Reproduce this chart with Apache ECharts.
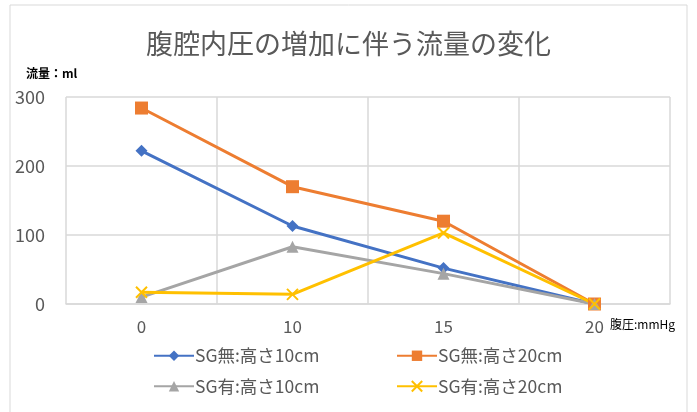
<!DOCTYPE html>
<html>
<head>
<meta charset="utf-8">
<script src="https://cdn.jsdelivr.net/npm/echarts@6/dist/echarts.min.js"></script>
<style>
body{margin:0;background:#fff;}
#chart{width:697px;height:412px;}
</style>
</head>
<body>
<div id="chart"></div>
<script>
// 腹圧 (mmHg)
var categories = ['0', '10', '15', '20'];
// 流量 (ml)
var sgNone10 = [222, 113, 52, 0];
var sgNone20 = [284, 170, 120, 0];
var sgYes10 = [10, 83, 44, 0];
var sgYes20 = [17, 14, 103, 0];
var seriesNames = ['SG無:高さ10cm', 'SG無:高さ20cm', 'SG有:高さ10cm', 'SG有:高さ20cm'];
var yTicks = [0, 100, 200, 300];

var font = '"Noto Sans CJK JP", "Noto Sans", sans-serif';
var xSymbol = 'path://M0,0 L10,10 M10,0 L0,10';

function makeLine(name, data, color, symbol, size, extra) {
    var s = {
        name: name,
        type: 'line',
        data: data,
        symbol: symbol,
        symbolSize: size,
        lineStyle: {color: color, width: 3},
        itemStyle: {color: color},
        emphasis: {disabled: true}
    };
    if (extra) {
        s.itemStyle.borderColor = color;
        s.itemStyle.borderWidth = 2;
        s.itemStyle.color = 'transparent';
    }
    return s;
}

function legendAt(left, names) {
    return {
        orient: 'vertical',
        left: left,
        top: 347,
        padding: 0,
        itemWidth: 40,
        itemHeight: 13,
        itemGap: 13,
        textStyle: {fontSize: 17.5, color: '#595959', padding: [0, 0, 0, -4]},
        data: names
    };
}

var myChart = echarts.init(document.getElementById('chart'));
var option = {
    animation: false,
    textStyle: {fontFamily: font},
    graphic: [{
        type: 'rect',
        shape: {x: 10, y: 5, width: 677, height: 420},
        style: {fill: 'none', stroke: '#d9d9d9', lineWidth: 1},
        silent: true
    }],
    title: {
        text: '腹腔内圧の増加に伴う流量の変化',
        left: 'center',
        top: 25,
        textStyle: {fontSize: 27, fontWeight: 'normal', color: '#595959', fontFamily: font}
    },
    legend: [
        legendAt(153, [seriesNames[0], seriesNames[2]]),
        legendAt(396, [seriesNames[1], seriesNames[3]])
    ],
    grid: {left: 66, right: 27, top: 97, bottom: 108},
    xAxis: {
        type: 'category',
        data: categories,
        boundaryGap: true,
        name: '腹圧:mmHg',
        nameLocation: 'end',
        nameGap: -60,
        nameTextStyle: {fontSize: 12, color: '#000', verticalAlign: 'top', padding: [14, 0, 0, 0]},
        axisLine: {lineStyle: {color: '#d9d9d9', width: 1.5}},
        axisTick: {show: false},
        axisLabel: {fontSize: 17, color: '#595959', margin: 14},
        splitLine: {show: true, lineStyle: {color: '#d9d9d9', width: 1.5}}
    },
    yAxis: {
        type: 'value',
        min: yTicks[0],
        max: yTicks[yTicks.length - 1],
        interval: 100,
        name: '流量：ml',
        nameLocation: 'end',
        nameGap: 18,
        nameTextStyle: {fontSize: 12, fontWeight: 'bold', color: '#000', align: 'left', padding: [0, 0, 0, -40]},
        axisLine: {show: false},
        axisTick: {show: false},
        axisLabel: {fontSize: 18, color: '#595959', margin: 21},
        splitLine: {lineStyle: {color: '#d9d9d9', width: 1.5}}
    },
    series: [
        makeLine(seriesNames[0], sgNone10, '#4472C4', 'diamond', 12),
        makeLine(seriesNames[1], sgNone20, '#ED7D31', 'rect', 13),
        makeLine(seriesNames[2], sgYes10, '#A5A5A5', 'triangle', 12),
        makeLine(seriesNames[3], sgYes20, '#FFC000', xSymbol, 11, true)
    ]
};
myChart.setOption(option);
</script>
</body>
</html>
